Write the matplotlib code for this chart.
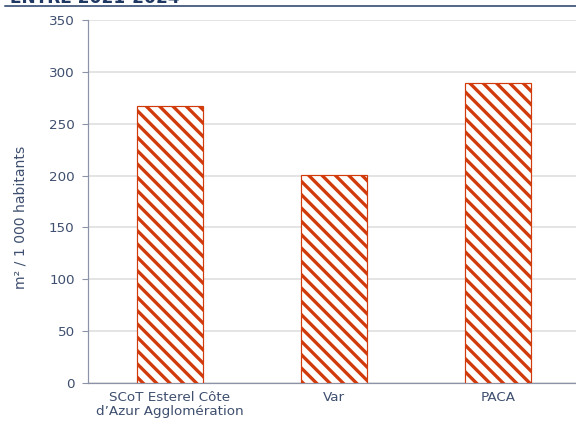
import matplotlib
matplotlib.use("Agg")
import matplotlib.pyplot as plt

# values
categories = ["SCoT Esterel Côte\nd\u2019Azur Agglomération", "Var", "PACA"]
values = [267, 201, 289]
yticks = [0, 50, 100, 150, 200, 250, 300, 350]

DPI = 80
px = 72 / DPI  # one pixel in points

bar_color = "#D13B0B"
text_color = "#3F4F6F"
spine_color = "#8C93A8"
navy = "#1F3864"

plt.rcParams["hatch.linewidth"] = 3.3 * px
plt.rcParams["hatch.color"] = bar_color

fig = plt.figure(figsize=(576 / DPI, 426 / DPI), dpi=DPI)
ax = fig.add_axes([88 / 576, 43 / 426, 488 / 576, 363 / 426])

x = list(range(len(categories)))
ax.bar(x, values, width=0.40, color="white", edgecolor=bar_color,
       hatch="\\\\", linewidth=1.2 * px, zorder=3)

ax.set_xlim(-0.5, 2.476)
ax.set_ylim(0, 350)
ax.set_yticks(yticks)
ax.set_xticks(x)
ax.set_xticklabels(categories, fontsize=13.5 * px, color=text_color, linespacing=1.15)
ax.tick_params(axis="x", length=0, pad=7)
ax.tick_params(axis="y", length=5, width=1, color=spine_color, labelsize=13.5 * px,
               labelcolor=text_color, pad=7)
ax.yaxis.grid(True, color="#DCDCDC", linewidth=1.5 * px, zorder=0)
ax.set_axisbelow(True)

for side in ["top", "right"]:
    ax.spines[side].set_visible(False)
for side in ["left", "bottom"]:
    ax.spines[side].set_color(spine_color)
    ax.spines[side].set_linewidth(1.2 * px)

ax.set_ylabel("m² / 1 000 habitants", fontsize=14 * px, color=text_color,
              va="center", ha="center")
ax.yaxis.set_label_coords(-0.139, 0.457)

# truncated title at the very top, with a rule under it
fig.text(10 / 576, 1 - 3 / 426, "ENTRE 2021-2024", fontsize=17 * px, fontweight="bold",
         color=navy, ha="left", va="baseline")
fig.add_artist(plt.Line2D([5 / 576, 1], [1 - 5.5 / 426, 1 - 5.5 / 426],
                          color=navy, linewidth=1.5 * px, transform=fig.transFigure))

fig.savefig("out.png", dpi=DPI, facecolor="white")
